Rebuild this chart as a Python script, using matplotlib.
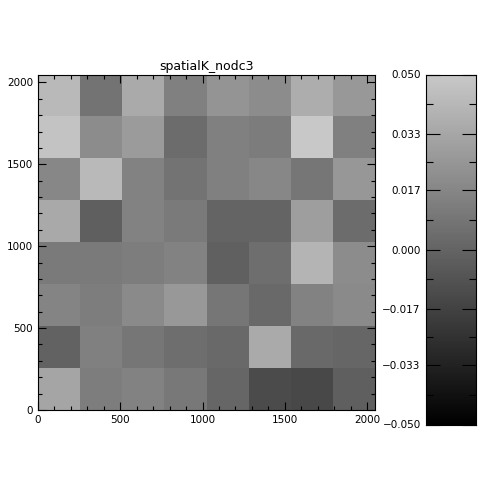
import numpy as np
import matplotlib
matplotlib.use("Agg")
import matplotlib.pyplot as plt
from matplotlib.colors import LinearSegmentedColormap
from matplotlib.ticker import MultipleLocator, FixedLocator

title = "spatialK_nodc3"
# cell values, rows listed from top (y 1792-2048) to bottom (y 0-256)
row8 = [0.0425, 0.0075, 0.035, 0.014, 0.024, 0.020, 0.036, 0.026]
row7 = [0.0475, 0.020, 0.0275, 0.004, 0.014, 0.012, 0.050, 0.014]
row6 = [0.0175, 0.0425, 0.015, 0.0075, 0.014, 0.0175, 0.009, 0.025]
row5 = [0.034, -0.0025, 0.015, 0.011, 0.000, 0.000, 0.029, 0.004]
row4 = [0.011, 0.011, 0.0125, 0.015, -0.002, 0.005, 0.040, 0.020]
row3 = [0.016, 0.0125, 0.019, 0.026, 0.009, 0.0025, 0.015, 0.019]
row2 = [-0.001, 0.014, 0.009, 0.005, 0.0025, 0.035, 0.0025, 0.001]
row1 = [0.0325, 0.0125, 0.015, 0.010, 0.001, -0.0125, -0.014, -0.0025]
extent_max = 2048
vmin, vmax = -0.05, 0.05
cbar_ticks = [-0.05, -0.033, -0.017, 0.0, 0.017, 0.033, 0.05]
cbar_labels = ["\u22120.050", "\u22120.033", "\u22120.017", "0.000", "0.017", "0.033", "0.050"]

data = np.array([row1, row2, row3, row4, row5, row6, row7, row8])

cmap = LinearSegmentedColormap.from_list("g", ["#000000", "#C8C8C8"])

fig = plt.figure(figsize=(5, 5), dpi=100)
ax = fig.add_axes([0.076, 0.18, 0.674, 0.671])
edges = np.linspace(0, extent_max, data.shape[0] + 1)
ax.pcolormesh(edges, edges, data, cmap=cmap, vmin=vmin, vmax=vmax, shading="flat")
ax.set_xlim(0, extent_max)
ax.set_ylim(0, extent_max)
ax.xaxis.set_major_locator(MultipleLocator(500))
ax.yaxis.set_major_locator(MultipleLocator(500))
ax.xaxis.set_minor_locator(MultipleLocator(100))
ax.yaxis.set_minor_locator(MultipleLocator(100))
ax.tick_params(which="both", direction="in", top=True, right=True, labelsize=7.5, width=0.8, color="black")
ax.tick_params(which="major", length=6)
ax.tick_params(which="minor", length=3)
for s in ax.spines.values():
    s.set_linewidth(0.8)
ax.set_title(title, fontsize=9, pad=3)

cax = fig.add_axes([0.851, 0.151, 0.1, 0.70])
levels = np.linspace(vmin, vmax, 257)
centers = ((levels[:-1] + levels[1:]) / 2).reshape(-1, 1)
cax.pcolormesh([0, 1], levels, centers, cmap=cmap, vmin=vmin, vmax=vmax, shading="flat")
cax.set_xlim(0, 1)
cax.set_ylim(vmin, vmax)
cax.set_xticks([])
cax.yaxis.set_major_locator(FixedLocator(cbar_ticks))
cax.set_yticklabels(cbar_labels)
minor = [(cbar_ticks[i] + cbar_ticks[i + 1]) / 2 for i in range(len(cbar_ticks) - 1)]
cax.yaxis.set_minor_locator(FixedLocator(minor))
cax.tick_params(which="both", direction="in", left=True, right=True, labelsize=7.5, width=0.8)
cax.tick_params(which="major", length=10)
cax.tick_params(which="minor", length=5)
for s in cax.spines.values():
    s.set_linewidth(0.8)

fig.savefig("out.png", dpi=100, facecolor="white")
